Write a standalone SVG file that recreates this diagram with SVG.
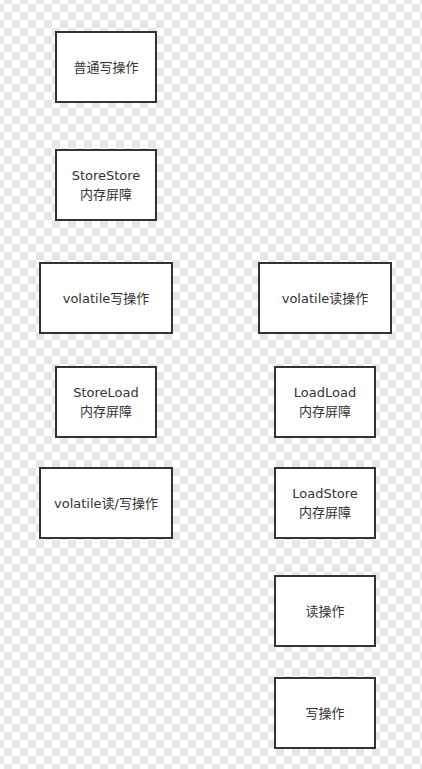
<svg xmlns="http://www.w3.org/2000/svg" width="422" height="769" viewBox="0 0 422 769">
<style>
.box{fill:#fff;stroke:#333;stroke-width:2}
.t{font-family:"DejaVu Sans","Noto Sans CJK SC",sans-serif;font-size:13px;fill:#333;text-anchor:middle}
</style>
<defs>
<pattern id="chk" x="4" y="4" width="16" height="16" patternUnits="userSpaceOnUse">
<rect width="16" height="16" fill="#fff"/>
<rect x="8" y="0" width="8" height="8" fill="#e6e6e6"/>
<rect x="0" y="8" width="8" height="8" fill="#e6e6e6"/>
</pattern>
</defs>
<rect width="422" height="769" fill="url(#chk)"/>
<g id="connectors"></g>
<g id="n1"><rect class="box" x="56" y="32" width="100" height="70"/><text class="t" x="106" y="72">普通写操作</text></g>
<g id="n2"><rect class="box" x="56" y="150" width="100" height="70"/><text class="t" x="106" y="180">StoreStore</text><text class="t" x="106" y="199">内存屏障</text></g>
<g id="n3"><rect class="box" x="40" y="263" width="132" height="70"/><text class="t" x="106" y="303">volatile写操作</text></g>
<g id="n4"><rect class="box" x="56" y="367" width="100" height="70"/><text class="t" x="106" y="397">StoreLoad</text><text class="t" x="106" y="416">内存屏障</text></g>
<g id="n5"><rect class="box" x="40" y="468" width="132" height="70"/><text class="t" x="106" y="508">volatile读/写操作</text></g>
<g id="n6"><rect class="box" x="259" y="263" width="132" height="70"/><text class="t" x="325" y="303">volatile读操作</text></g>
<g id="n7"><rect class="box" x="275" y="367" width="100" height="70"/><text class="t" x="325" y="397">LoadLoad</text><text class="t" x="325" y="416">内存屏障</text></g>
<g id="n8"><rect class="box" x="275" y="468" width="100" height="70"/><text class="t" x="325" y="498">LoadStore</text><text class="t" x="325" y="517">内存屏障</text></g>
<g id="n9"><rect class="box" x="275" y="576" width="100" height="70"/><text class="t" x="325" y="616">读操作</text></g>
<g id="n10"><rect class="box" x="275" y="678" width="100" height="70"/><text class="t" x="325" y="718">写操作</text></g>
</svg>
